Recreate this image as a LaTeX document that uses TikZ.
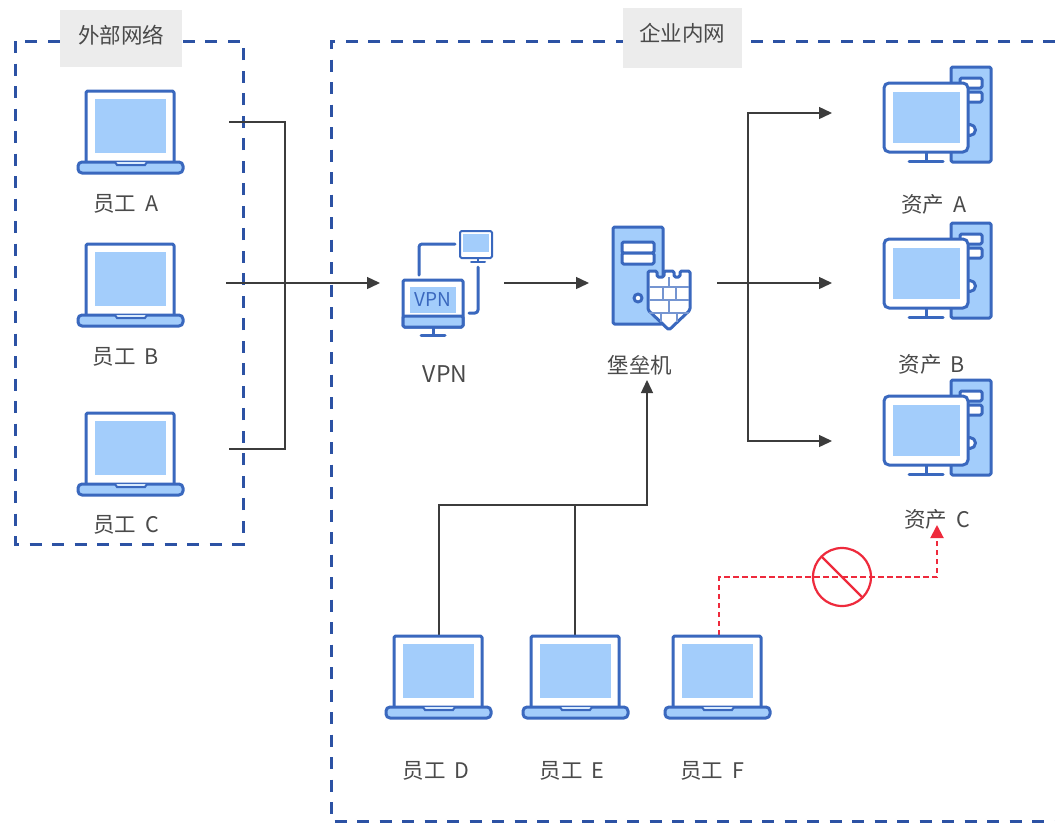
\documentclass[tikz,border=0pt]{standalone}
\usepackage{fontspec}
\setmainfont{Noto Sans CJK SC}
\usetikzlibrary{arrows.meta,calc}
\definecolor{iconblue}{HTML}{3A68BE}
\definecolor{iconfill}{HTML}{A3CDFB}
\definecolor{boxblue}{HTML}{2C52A4}
\definecolor{lblgray}{HTML}{ECECEC}
\definecolor{txt}{HTML}{4A4A4A}
\definecolor{wire}{HTML}{3C3C3C}
\definecolor{deny}{HTML}{EE2A3C}
\newcommand{\wsp}{\hspace{0.42em}}
\tikzset{
  x=1pt,y=-1pt,
  ico/.style={draw=iconblue,line width=3pt,line join=round,rounded corners=1.5pt},
  inner/.style={fill=iconfill,draw=none},
  zone/.style={draw=boxblue,line width=3pt,dash pattern=on 12pt off 10.5pt},
  lbl/.style={text=txt,font=\fontsize{21.5}{24}\selectfont,inner sep=0pt},
  tag/.style={fill=lblgray,draw=none},
  wireline/.style={draw=wire,line width=1.4pt},
  wirearrow/.style={wireline,-{Triangle[length=13pt,width=12pt]}},
  denyline/.style={draw=deny,line width=2pt,dash pattern=on 5.5pt off 3.5pt},
  laptop/.pic={
    \path[fill=white] (-44,1) rectangle (44,72);
    \path[inner] (-35,9) rectangle (36,63);
    \draw[ico] (-44,71) -- (-44,1) -- (44,1) -- (44,71);
    \draw[ico,fill=iconfill,rounded corners=4pt] (-52,72) rectangle (53,83);
    \draw[draw=iconblue,line width=2pt,fill=white!60!iconfill] (-15,72) -- (-13,75) -- (15,75) -- (17,72);
  },
  computer/.pic={
    \draw[ico,fill=iconfill] (67,0) rectangle (107,95);
    \draw[ico,fill=white] (76,11) rectangle (98,21);
    \draw[ico,fill=white] (76,25) rectangle (98,35);
    \draw[ico,fill=white] (86,63) circle (5.5);
    \draw[ico,fill=white,rounded corners=5pt] (0,16) rectangle (84,85);
    \path[inner] (9,25) rectangle (76,76);
    \draw[ico] (42,85) -- (42,94);
    \draw[ico,line cap=round] (25,94) -- (59,94);
  },
  vpnicon/.pic={
    \draw[ico,fill=white] (0,0) rectangle (60,47);
    \path[inner] (7,7) rectangle (53,33);
    \draw[ico,fill=iconfill] (0,36) rectangle (60,47);
    \draw[ico] (30,47) -- (30,55);
    \draw[ico,line cap=round] (18,55) -- (42,55);
    \node[text=iconblue,font=\fontsize{19}{22}\selectfont,inner sep=0pt] (vpntext) at (30,20) {VPN};
    \draw[ico,fill=white,line width=2pt] (57,-49) rectangle (89,-22);
    \path[inner] (60,-46) rectangle (86,-28);
    \draw[ico,line width=2pt] (75,-22) -- (75,-18);
    \draw[ico,line width=2pt,line cap=round] (68,-18) -- (82,-18);
    \draw[ico,line cap=round,rounded corners=3pt] (16,-5) -- (16,-36) -- (52,-36);
    \draw[ico,line cap=round,rounded corners=3pt] (75,-13) -- (75,33) -- (66,33);
  },
  bastion/.pic={
    \draw[ico,fill=iconfill] (0,0) rectangle (50,97);
    \draw[ico,fill=white] (9,15) rectangle (41,26);
    \draw[ico,fill=white] (9,26) rectangle (41,37);
    \draw[ico,fill=white] (25,71) circle (4);
    \draw[ico,fill=white] (35,44) -- (44,44) -- (44,50) -- (51,50) -- (51,44) -- (61,44) -- (61,50)
       -- (67,50) -- (67,44) -- (77,44) -- (77,83) -- (56,103) -- (35,83) -- cycle;
    \draw[draw=iconblue!70,line width=1.2pt] (36,60) -- (76,60) (36,73) -- (76,73) (36,86) -- (76,86)
       (50,60) -- (50,73) (63,60) -- (63,73) (56,73) -- (56,86) (48,86) -- (48,95) (64,86) -- (64,95) (56,50) -- (56,60);
  }
}
\begin{document}
\begin{tikzpicture}
\useasboundingbox (0,0) rectangle (1055,823);
\fill[white] (0,0) rectangle (1055,823);

% zones
\draw[zone] (15,41) rectangle (243,544);
\draw[zone] (1055,41) -- (331,41) -- (331,821) -- (1055,821);
\fill[tag] (60,10) rectangle (182,67);
\fill[tag] (623,8) rectangle (742,68);
\node[lbl] (outerzone) at (121,35) {外部网络};
\node[lbl] (innerzone) at (682,33) {企业内网};

% icon positions
\coordinate (lapA) at (130,90);
\coordinate (lapB) at (130,243);
\coordinate (lapC) at (130,412);
\coordinate (lapD) at (438,635);
\coordinate (lapE) at (575,635);
\coordinate (lapF) at (717,635);
\coordinate (srvA) at (884,67);
\coordinate (srvB) at (884,223);
\coordinate (srvC) at (884,380);
\coordinate (vpnpos) at (403,280);
\coordinate (baspos) at (613,227);

% connector ends
\coordinate (oa) at (229,122);
\coordinate (ob) at (226,283);
\coordinate (oc) at (229,449);
\coordinate (vi) at (380,283);
\coordinate (vo) at (504,283);
\coordinate (bi) at (589,283);
\coordinate (bo) at (717,283);
\coordinate (ta) at (832,113);
\coordinate (tb) at (832,283);
\coordinate (tc) at (832,441);
\coordinate (busx) at (748,283);
\coordinate (db) at (439,635);
\coordinate (eb) at (575,635);
\coordinate (fb) at (719,635);
\coordinate (bb) at (647,380);
\coordinate (crit) at (937,525);
\coordinate (ban) at (842,577);

\draw[wireline] (oa) -| (285,449) -- (oc);
\draw[wirearrow] (ob) -- (vi);
\draw[wirearrow] (vo) -- (bi);
\draw[wirearrow] (bo) -- (tb);
\draw[wirearrow] (busx) |- (ta);
\draw[wirearrow] (busx) |- (tc);
\draw[wirearrow] (db) |- (647,505) -- (bb);
\draw[wireline] (eb) -- (575,505);

% denied route
\draw[denyline] (fb) |- (ban);
\draw[denyline,-{Triangle[length=13pt,width=13pt,fill=deny]}] (ban) -| (crit);
\draw[draw=deny,line width=2.2pt] (ban) circle (29);
\draw[draw=deny,line width=2.2pt] ($(ban)+(-20.5,-20.5)$) -- ($(ban)+(20.5,20.5)$);

% icons
\pic at (lapA) {laptop};
\pic at (lapB) {laptop};
\pic at (lapC) {laptop};
\pic at (lapD) {laptop};
\pic at (lapE) {laptop};
\pic at (lapF) {laptop};
\pic at (srvA) {computer};
\pic at (srvB) {computer};
\pic at (srvC) {computer};
\pic at (vpnpos) {vpnicon};
\pic at (baspos) {bastion};

% labels
\node[lbl] (tA) at (126,204) {员工\wsp A};
\node[lbl] (tB) at (126,357) {员工\wsp B};
\node[lbl] (tC) at (126,525) {员工\wsp C};
\node[lbl] (tD) at (436,771) {员工\wsp D};
\node[lbl] (tE) at (572,771) {员工\wsp E};
\node[lbl] (tF) at (712,771) {员工\wsp F};
\node[lbl,font=\fontsize{23}{26}\selectfont] (tV) at (445,374) {VPN};
\node[lbl] (tH) at (640,365) {堡垒机};
\node[lbl] (tSA) at (934,204) {资产\wsp A};
\node[lbl] (tSB) at (932,364) {资产\wsp B};
\node[lbl] (tSC) at (937,519) {资产\wsp C};
\end{tikzpicture}
\end{document}
